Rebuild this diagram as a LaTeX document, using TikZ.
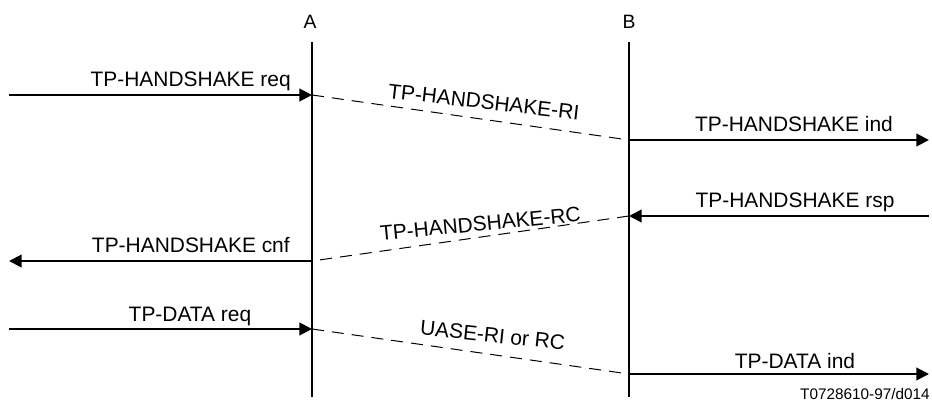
\documentclass[tikz,border=0pt]{standalone}
\usepackage{fontspec}
\setmainfont{Liberation Sans}
\usetikzlibrary{arrows.meta}
\begin{document}
\begin{tikzpicture}[x=0.75pt,y=-0.75pt,
  lifeline/.style={line width=1.5pt},
  prim/.style={line width=1.5pt,-{Triangle[length=9.5pt,width=9.5pt]}},
  pdu/.style={line width=0.75pt,dash pattern=on 9pt off 6pt},
  lbl/.style={font=\fontsize{15.7pt}{18pt}\selectfont,inner sep=0pt},
  ent/.style={font=\fontsize{14.5pt}{17pt}\selectfont,inner sep=0pt},
  foot/.style={font=\fontsize{11.5pt}{13pt}\selectfont,inner sep=0pt}]
\useasboundingbox (0,0) rectangle (932,403);
% entities
\node[ent,anchor=base] (A) at (310,29) {A};
\node[ent,anchor=base] (B) at (629,29) {B};
\coordinate (atop) at (312,42);
\coordinate (abot) at (312,397);
\coordinate (btop) at (629,42);
\coordinate (bbot) at (629,397);
\draw[lifeline] (atop) -- (abot);
\draw[lifeline] (btop) -- (bbot);
% event points
\coordinate (a1) at (312,95);
\coordinate (a2) at (312,261);
\coordinate (a3) at (312,329);
\coordinate (b1) at (629,140);
\coordinate (b2) at (629,216);
\coordinate (b3) at (629,374);
\coordinate (l1) at (9,95);
\coordinate (l2) at (9,261);
\coordinate (l3) at (9,329);
\coordinate (r1) at (929,140);
\coordinate (r2) at (929,216);
\coordinate (r3) at (929,374);
% primitives
\draw[prim] (l1) -- (a1);
\draw[prim] (b1) -- (r1);
\draw[prim] (r2) -- (b2);
\draw[prim] (a2) -- (l2);
\draw[prim] (l3) -- (a3);
\draw[prim] (b3) -- (r3);
% PDUs
\draw[pdu] (a1) -- (b1);
\draw[pdu] (b2) -- (a2);
\draw[pdu] (a3) -- (b3);
% labels
\node[lbl,anchor=base east] (t1) at (291,87) {TP-HANDSHAKE req};
\node[lbl,anchor=base] (t2) at (794,132) {TP-HANDSHAKE ind};
\node[lbl,anchor=base] (t3) at (795,207) {TP-HANDSHAKE rsp};
\node[lbl,anchor=base east] (t4) at (290,252) {TP-HANDSHAKE cnf};
\node[lbl,anchor=base] (t5) at (190,321) {TP-DATA req};
\node[lbl,anchor=base] (t6) at (795,368) {TP-DATA ind};
\node[lbl,anchor=base,rotate=-6.5] (p1) at (483,109) {TP-HANDSHAKE-RI};
\node[lbl,anchor=base,rotate=5.5] (p2) at (481,231) {TP-HANDSHAKE-RC};
\node[lbl,anchor=base,rotate=-6] (p3) at (492,342.5) {UASE-RI or RC};
\node[foot,anchor=base east] (f) at (930,399) {T0728610-97/d014};
\end{tikzpicture}
\end{document}
